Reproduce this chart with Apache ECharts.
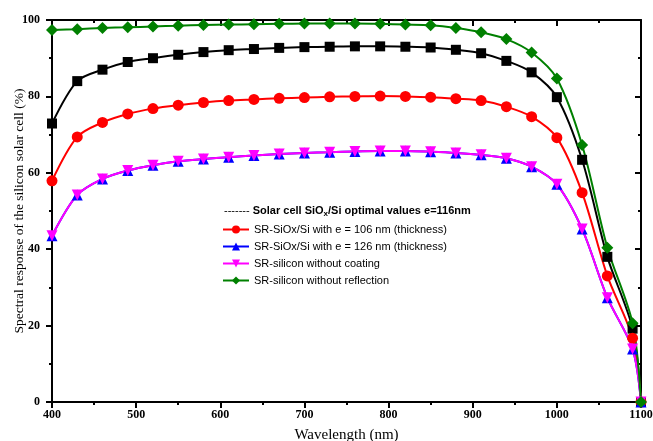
<!DOCTYPE html>
<html>
<head>
<meta charset="utf-8">
<script src="https://cdn.jsdelivr.net/npm/echarts@6/dist/echarts.min.js"></script>
<style>html,body{margin:0;padding:0;background:#fff;}#c{width:653px;height:441px;}</style>
</head>
<body>
<div id="c"></div>
<script>
const wavelengths = [400,430,460,490,520,550,580,610,640,670,700,730,760,790,820,850,880,910,940,970,1000,1030,1060,1090,1100];
const optimal116 = [72.9,84.0,87.0,89.0,90.0,90.9,91.6,92.1,92.4,92.7,92.9,93.0,93.1,93.1,93.0,92.8,92.2,91.3,89.3,86.3,79.8,63.4,38.0,19.2,0];
const sr106 = [57.9,69.4,73.2,75.4,76.8,77.7,78.4,78.9,79.2,79.5,79.7,79.9,80.0,80.1,80.0,79.8,79.4,78.9,77.3,74.7,69.2,54.8,33.0,16.7,0];
const sr126 = [43.5,54.2,58.4,60.6,62.0,63.0,63.6,64.1,64.5,64.9,65.2,65.4,65.6,65.7,65.7,65.5,65.2,64.7,63.8,61.6,57.0,45.3,27.3,13.9,0];
const srNoCoating = [43.5,54.2,58.4,60.6,62.0,63.0,63.6,64.1,64.5,64.9,65.2,65.4,65.6,65.7,65.7,65.5,65.2,64.7,63.8,61.6,57.0,45.3,27.3,13.9,0];
const srNoReflection = [97.4,97.6,97.9,98.1,98.3,98.5,98.7,98.8,98.9,99.0,99.1,99.1,99.1,99.0,98.8,98.6,97.9,96.8,95.0,91.5,84.7,67.3,40.4,20.6,0];
const xTicks = [400,500,600,700,800,900,1000,1100];
const yTicks = [0,20,40,60,80,100];
const seriesNames = ['Solar cell SiOx/Si optimal values e=116nm','SR-SiOx/Si with e = 106 nm (thickness)','SR-SiOx/Si with e = 126 nm (thickness)','SR-silicon without coating','SR-silicon without reflection'];

const pairs = arr => wavelengths.map((w,i)=>[w,arr[i]]);
const serif = "'Liberation Serif','Times New Roman',serif";
const sans = "'Liberation Sans',Arial,sans-serif";
const chart = echarts.init(document.getElementById('c'), null, {renderer:'canvas'});

function mkSeries(name, data, color, symbol, size, rotate) {
  return {
    name, type:'line', data: pairs(data), smooth:0.3,
    symbol, symbolSize:size, symbolRotate: rotate||0, showAllSymbol:true,
    lineStyle:{color, width:2}, itemStyle:{color}, z:2
  };
}
const axisCommon = {
  axisLine:{show:true, onZero:false, lineStyle:{color:'#000', width:2}},
  splitLine:{show:false},
};
chart.setOption({
  animation:false,
  backgroundColor:'#fff',
  grid:{left:52, right:12, top:20, bottom:39, outerBoundsMode:'none', containLabel:false},
  xAxis:[
    Object.assign({type:'value', min:400, max:1100, interval:100,
      axisTick:{show:true, inside:false, length:6, lineStyle:{width:2}},
      minorTick:{show:true, splitNumber:2, length:3, lineStyle:{color:'#000', width:2}},
      axisLabel:{color:'#000', fontFamily:serif, fontWeight:'bold', fontSize:12, margin:7,
        customValues: xTicks, formatter: v => String(v)},
      name:'Wavelength (nm)', nameLocation:'middle', nameGap:26, nameMoveOverlap:false,
      nameTextStyle:{color:'#000', fontFamily:serif, fontSize:15}}, axisCommon),
    Object.assign({type:'value', position:'top', min:400, max:1100, interval:100,
      axisTick:{show:true, inside:true, length:6, lineStyle:{width:2}},
      minorTick:{show:true, splitNumber:2, length:3, lineStyle:{color:'#000', width:2}},
      axisLabel:{show:false}}, axisCommon)
  ],
  yAxis:[
    Object.assign({type:'value', min:0, max:100, interval:20,
      axisTick:{show:true, inside:false, length:6, lineStyle:{width:2}},
      minorTick:{show:true, splitNumber:2, length:3, lineStyle:{color:'#000', width:2}},
      axisLabel:{color:'#000', fontFamily:serif, fontWeight:'bold', fontSize:12, margin:12,
        customValues: yTicks, formatter: v => String(v)},
      name:'Spectral response of the silicon solar cell (%)', nameLocation:'middle', nameGap:26, nameMoveOverlap:false,
      nameTextStyle:{color:'#000', fontFamily:serif, fontSize:13.5}}, axisCommon),
    Object.assign({type:'value', position:'right', min:0, max:100, interval:20,
      axisTick:{show:true, inside:true, length:6, lineStyle:{width:2}},
      minorTick:{show:true, splitNumber:2, length:3, lineStyle:{color:'#000', width:2}},
      axisLabel:{show:false}}, axisCommon)
  ],
  legend:{
    orient:'vertical', left:217, top:219, itemWidth:26, itemHeight:10, itemGap:6,
    textStyle:{color:'#000', fontFamily:sans, fontSize:11},
    data:[seriesNames[1], seriesNames[2], seriesNames[3], seriesNames[4]]
  },
  graphic:[{
    type:'text', left:224, top:205,
    style:{
      text:'{d|------- }{b|Solar cell SiO}{s|x}{b|/Si optimal values e=116nm}',
      rich:{
        d:{fontFamily:sans, fontSize:11, fontWeight:'normal', fill:'#000'},
        b:{fontFamily:sans, fontSize:11, fontWeight:'bold', fill:'#000'},
        s:{fontFamily:sans, fontSize:8, fontWeight:'bold', fill:'#000', padding:[6,0,0,0]}
      }
    }
  }],
  series:[
    mkSeries(seriesNames[0], optimal116, '#000000', 'rect', 10),
    mkSeries(seriesNames[1], sr106, '#ff0000', 'circle', 11),
    mkSeries(seriesNames[2], sr126, '#0000ff', 'triangle', 11),
    mkSeries(seriesNames[3], srNoCoating, '#ff00ff', 'triangle', 11, 180),
    mkSeries(seriesNames[4], srNoReflection, '#008000', 'diamond', 12)
  ]
});
</script>
</body>
</html>
